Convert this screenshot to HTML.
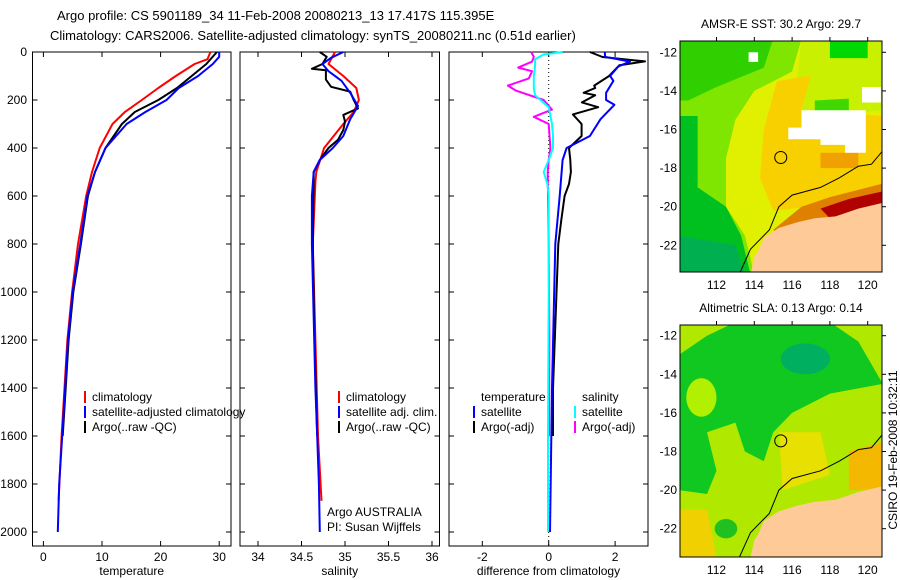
<!DOCTYPE html>
<html><head><meta charset="utf-8"><style>
body{margin:0;background:#fff;}
svg{display:block;font-family:"Liberation Sans",sans-serif;}
text{font-size:12px;fill:#000;}
</style></head><body>
<svg id="fig" width="900" height="580" viewBox="0 0 900 580">
<text x="57" y="20" style="font-size:13px">Argo profile: CS 5901189_34 11-Feb-2008 20080213_13 17.417S 115.395E</text>
<text x="50" y="40" style="font-size:13px">Climatology: CARS2006. Satellite-adjusted climatology: synTS_20080211.nc (0.51d earlier)</text>
<g id="panels"></g>
<g id="maps"></g>
<text transform="translate(897,450) rotate(-90)" text-anchor="middle">CSIRO 19-Feb-2008 10:32:11</text>
</svg>
<script>
// ---- Data ----
const depthTicks=[0,200,400,600,800,1000,1200,1400,1600,1800,2000];
const tempTicks=[0,10,20,30];
const salTicks=[34,34.5,35,35.5,36];
const diffTicks=[-2,0,2];

const tClimD=[0,30,50,100,150,200,250,300,400,500,600,800,1000,1200,1400,1600,1870];
const tClimV=[28.5,28,25.8,22.6,19.6,16.8,13.9,11.8,9.6,8.3,7.3,5.9,4.9,4.1,3.6,3.1,2.6];
const tSatD=[0,20,50,100,150,200,250,300,400,500,600,800,1000,1200,1400,1600,1800,2000];
const tSatV=[30,30,28.9,26.4,23.1,21,17.4,14.2,10.6,8.8,7.5,6.3,5.0,4.2,3.7,3.2,2.7,2.45];
const tArgoD=[0,50,100,150,200,250,300,400,500,600,800,1000,1200,1400,1600];
const tArgoV=[29.6,27.8,25.3,22.8,19.6,15.6,13.4,10.6,8.8,7.6,6.4,5.1,4.3,3.8,3.3];

const sClimD=[0,50,100,150,200,250,300,400,500,540,800,1200,1600,1870];
const sClimV=[34.885,34.81,34.98,35.13,35.16,35.10,34.98,34.76,34.67,34.66,34.63,34.66,34.69,34.73];
const sSatD=[0,24,50,80,120,170,225,280,350,400,450,500,600,800,1400,1600,1800,2000];
const sSatV=[34.98,34.84,34.74,34.81,34.96,35.06,35.15,35.06,34.98,34.86,34.71,34.64,34.62,34.62,34.66,34.68,34.70,34.71];
const sArgoD=[0,20,50,70,76,115,145,165,200,235,262,290,325,366,400,450,500,800,1200,1600];
const sArgoV=[34.71,34.79,34.74,34.62,34.78,34.78,34.84,35.06,35.10,35.15,34.98,35.0,34.98,34.92,34.81,34.71,34.64,34.63,34.65,34.68];

const dTSatD=[0,20,40,60,100,120,170,200,220,280,350,400,450,600,800,1400,2000];
const dTSatV=[1.69,1.7,2.45,2.1,1.85,1.95,1.73,1.73,1.98,1.56,1.24,0.54,0.42,0.33,0.2,0.1,0.04];
const dTArgoD=[0,21,39,55,100,140,150,170,180,210,230,260,300,350,400,450,500,550,600,700,800,1400,1600];
const dTArgoV=[1.24,1.62,2.9,2.13,1.82,1.37,1.4,1.05,1.4,1.0,1.49,0.73,0.99,0.99,0.61,0.65,0.67,0.61,0.48,0.38,0.29,0.13,0.13];
const dSSatD=[0,10,30,60,100,150,180,230,300,350,400,450,500,550,600,1000,1600,2000];
const dSSatV=[0.42,-0.15,-0.41,-0.41,-0.45,-0.45,-0.41,0.0,0.1,0.13,0.13,0.0,-0.15,-0.04,0,0,-0.02,-0.02];
const dSArgoD=[0,20,40,65,80,110,140,160,200,240,270,300,400,450,500,800,1200,1600];
const dSArgoV=[-0.53,-0.45,-0.5,-0.92,-0.5,-0.6,-1.23,-1.0,-0.15,0.1,-0.45,0.0,0.05,0,-0.03,0,0.02,0.01];

// ---- Helpers ----
const NS="http://www.w3.org/2000/svg";
const root=document.getElementById('panels');
function mk(tag,attrs,parent){const e=document.createElementNS(NS,tag);for(const k in attrs)e.setAttribute(k,attrs[k]);(parent||root).appendChild(e);return e;}
const yD=d=>52+d*0.24;
const BOT=546;
function panel(name,x0,x1,xs,ticks,labelFn,xlabel){
  const g=mk('g',{});
  
  
  const r=mk('rect',{x:x0,y:52,width:x1-x0,height:BOT-52,fill:'none',stroke:'#000','stroke-width':1},g);
  
  
  ticks.forEach(v=>{const x=xs(v);
    mk('line',{x1:x,x2:x,y1:BOT,y2:BOT-5,stroke:'#000'},g);
    mk('line',{x1:x,x2:x,y1:52,y2:57,stroke:'#000'},g);
    const t=mk('text',{x:x,y:BOT+15,'text-anchor':'middle'},g);t.textContent=labelFn(v);
    
    
  });
  depthTicks.forEach(d=>{const y=yD(d);
    mk('line',{x1:x0,x2:x0+5,y1:y,y2:y,stroke:'#000'},g);
    mk('line',{x1:x1,x2:x1-5,y1:y,y2:y,stroke:'#000'},g);
  });
  const xl=mk('text',{x:(x0+x1)/2,y:575,'text-anchor':'middle'},g);xl.textContent=xlabel;
  
  
  return g;
}
function series(g,D,V,xs,color,w,name){
  const pts=D.map((d,i)=>xs(V[i]).toFixed(1)+','+yD(d).toFixed(1)).join(' ');
  const p=mk('polyline',{points:pts,fill:'none',stroke:color,'stroke-width':w,'stroke-linejoin':'round'},g);
  
  
}
function legend(g,x,y,color,label){
  mk('line',{x1:x,x2:x,y1:y-10,y2:y+2,stroke:color,'stroke-width':2},g);
  const t=mk('text',{x:x+7,y:y},g);t.textContent=label;
  
  
}
depthTicks.forEach(d=>{const t=mk('text',{x:27,y:yD(d)+4,'text-anchor':'end'});t.textContent=d;
  
  });

const xT=v=>43.4+v*5.86;
const g1=panel('temperature-panel',32.5,231,xT,tempTicks,v=>v,'temperature');
series(g1,tClimD,tClimV,xT,'#f00',2,'temp-climatology-line');
series(g1,tArgoD,tArgoV,xT,'#000',2,'temp-argo-line');
series(g1,tSatD,tSatV,xT,'#00f',2,'temp-satellite-line');
legend(g1,85,401,'#f00','climatology');
legend(g1,85,416,'#00f','satellite-adjusted climatology');
legend(g1,85,431,'#000','Argo(..raw -QC)');

const xS=v=>258+(v-34)*87;
const g2=panel('salinity-panel',240,439.5,xS,salTicks,v=>v,'salinity');
series(g2,sClimD,sClimV,xS,'#f00',2,'sal-climatology-line');
series(g2,sArgoD,sArgoV,xS,'#000',2,'sal-argo-line');
series(g2,sSatD,sSatV,xS,'#00f',2,'sal-satellite-line');
legend(g2,339,401,'#f00','climatology');
legend(g2,339,416,'#00f','satellite adj. clim.');
legend(g2,339,431,'#000','Argo(..raw -QC)');
const a1=mk('text',{x:327,y:516},g2);a1.textContent='Argo AUSTRALIA';


const a2=mk('text',{x:327,y:531},g2);a2.textContent='PI: Susan Wijffels';



const xF=v=>548.7+v*33.2;
const g3=panel('difference-panel',449,648,xF,diffTicks,v=>v,'difference from climatology');
mk('line',{x1:xF(0),x2:xF(0),y1:52,y2:BOT,stroke:'#000','stroke-dasharray':'1,3'},g3);
series(g3,dSArgoD,dSArgoV,xF,'#f0f',2,'sal-argo-diff-line');
series(g3,dSSatD,dSSatV,xF,'#0ff',2,'sal-satellite-diff-line');
series(g3,dTArgoD,dTArgoV,xF,'#000',2,'temp-argo-diff-line');
series(g3,dTSatD,dTSatV,xF,'#00f',2,'temp-satellite-diff-line');
const lt=mk('text',{x:481,y:401},g3);lt.textContent='temperature';


const ls=mk('text',{x:582,y:401},g3);ls.textContent='salinity';


legend(g3,474,416,'#00f','satellite');
legend(g3,474,431,'#000','Argo(-adj)');
legend(g3,575,416,'#0ff','satellite');
legend(g3,575,431,'#f0f','Argo(-adj)');

const mroot=document.getElementById('maps');
function mapPanel(name,top,bot,lat12y,title,shapes,bg){
  const g=mk('g',{},mroot);
  
  
  const L=680,R=882;
  const px=lon=>716.5+(lon-112)*18.9;
  const py=lat=>lat12y+(lat-12)*19.3;
  const cid=name+'-clip';
  const cp=mk('clipPath',{id:cid},g);mk('rect',{x:L,y:top,width:R-L,height:bot-top},cp);
  const inner=mk('g',{'clip-path':'url(#'+cid+')'},g);
  mk('rect',{x:L,y:top,width:R-L,height:bot-top,fill:bg},inner);
  shapes.forEach(s=>{
    if(s.ell){mk('ellipse',{cx:px(s.ell[0]),cy:py(s.ell[1]),rx:s.ell[2]*18.9,ry:s.ell[3]*19.3,fill:s.fill},inner);return;}
    const pts=s.p.map(q=>px(q[0]).toFixed(1)+','+py(q[1]).toFixed(1)).join(' ');
    mk(s.line?'polyline':'polygon',{points:pts,fill:s.line?'none':s.fill,stroke:s.line?'#000':'none','stroke-width':1},inner);
  });
  const c=mk('circle',{cx:px(115.4),cy:py(17.45),r:6,fill:'none',stroke:'#000'},g);
  
  
  mk('rect',{x:L,y:top,width:R-L,height:bot-top,fill:'none',stroke:'#000'},g);
  [112,114,116,118,120].forEach(lon=>{const x=px(lon);
    mk('line',{x1:x,x2:x,y1:top,y2:top-4,stroke:'#000'},g);
    const t=mk('text',{x:x,y:bot+17,'text-anchor':'middle'},g);t.textContent=lon;
    
    });
  [12,14,16,18,20,22].forEach(lat=>{const y=py(lat);
    mk('line',{x1:R,x2:R+4,y1:y,y2:y,stroke:'#000'},g);
    const t=mk('text',{x:L-3,y:y+4,'text-anchor':'end'},g);t.textContent='-'+lat;
    
    });
  const tt=mk('text',{x:(L+R)/2,y:top-13,'text-anchor':'middle'},g);tt.textContent=title;
  
  
}
const land={fill:'#fdca98',p:[[113.8,23.5],[114.0,22.6],[114.2,22.3],[114.5,21.6],[115.3,21.1],[116.3,20.8],[117.2,20.6],[118.3,20.5],[119.5,20.1],[120.8,19.8],[120.8,23.5]]};
const shelf={line:true,p:[[113.2,23.5],[113.8,22.2],[114.8,21.2],[115.3,20],[116,19.4],[117.5,19],[118.5,18.5],[119.5,17.9],[120.2,17.8],[120.8,17.1]]};
mapPanel('sst-map',41,272,52.3,'AMSR-E SST: 30.2 Argo: 29.7',[
 {fill:'#7ee600',p:[[110,11.3],[116.5,11.3],[116,13],[114,14],[113,15.5],[112.5,17.5],[112.5,20],[113.5,21.5],[114,23.5],[110,23.5]]},
 {fill:'#30d000',p:[[110,11.3],[115,11.3],[114.5,12.8],[112,13.8],[110.5,14.5],[110,14.5]]},
 {fill:'#00c020',p:[[110,15.3],[111,15.3],[111,19],[112.5,20],[113.3,21.5],[113.8,23.5],[110,23.5]]},
 {fill:'#00b050',p:[[110,21.5],[113,22],[113.5,23.5],[110,23.5]]},
 {fill:'#c8f000',p:[[116.5,11.3],[120.8,11.3],[120.8,15],[116,15.5]]},
 {fill:'#f8d000',p:[[115.2,13.5],[117,13.2],[116.5,15],[120.8,15.3],[120.8,19],[117,20],[115,20.2],[114.3,18.5],[114.5,16]]},
 {fill:'#40d800',p:[[117.2,14.5],[119,14.4],[119,15.3],[117.2,15.3]]},
 {fill:'#00d800',p:[[118,11.3],[120,11.3],[120,12.3],[118,12.3]]},
 {fill:'#f0a000',p:[[117.5,17.2],[119.5,17.2],[119.5,18],[117.5,18]]},
 {fill:'#e08000',p:[[115,21.2],[116.5,20],[118,19.5],[120.8,18.8],[120.8,19.9],[118,20.6],[115.5,21.6]]},
 {fill:'#b00000',p:[[117.5,20.1],[119,19.6],[120.8,19.2],[120.8,19.9],[118,20.6]]},
 {fill:'#ffffff',p:[[115.8,15.9],[116.5,15.9],[116.5,15],[119.9,15],[119.9,17.2],[118.8,17.2],[118.8,16.8],[117.5,16.8],[117.5,16.5],[115.8,16.5]]},
 {fill:'#ffffff',p:[[119.7,13.8],[120.7,13.8],[120.7,14.6],[119.7,14.6]]},
 {fill:'#ffffff',p:[[113.7,12],[114.2,12],[114.2,12.5],[113.7,12.5]]},
 land,shelf],'#e0f000');
mapPanel('sla-map',325,557,335.7,'Altimetric SLA: 0.13 Argo: 0.14',[
 {fill:'#10c820',p:[[110,13],[111.5,12],[113,11.3],[118,11.3],[119.5,12.3],[120.8,14.5],[118,15],[116,16],[115,17],[114.5,18.5],[113.5,18],[113,16.5],[111.5,17],[112,19],[111.5,20.2],[110,20]]},
 {ell:[111.2,15.2,0.8,1],fill:'#b0f000'},
 {ell:[116.7,13.2,1.3,0.8],fill:'#00b060'},
 {fill:'#f0d000',p:[[110,21],[111.5,21],[112,23.5],[110,23.5]]},
 {fill:'#f5b800',p:[[119,18],[120.8,17.5],[120.8,20],[119,20]]},
 {fill:'#e8e000',p:[[115.3,17],[117.5,17],[118,19.2],[115.5,20]]},
 {ell:[112.5,22,0.6,0.5],fill:'#20c020'},
 land,shelf],'#b0e800');
</script>
</body></html>
